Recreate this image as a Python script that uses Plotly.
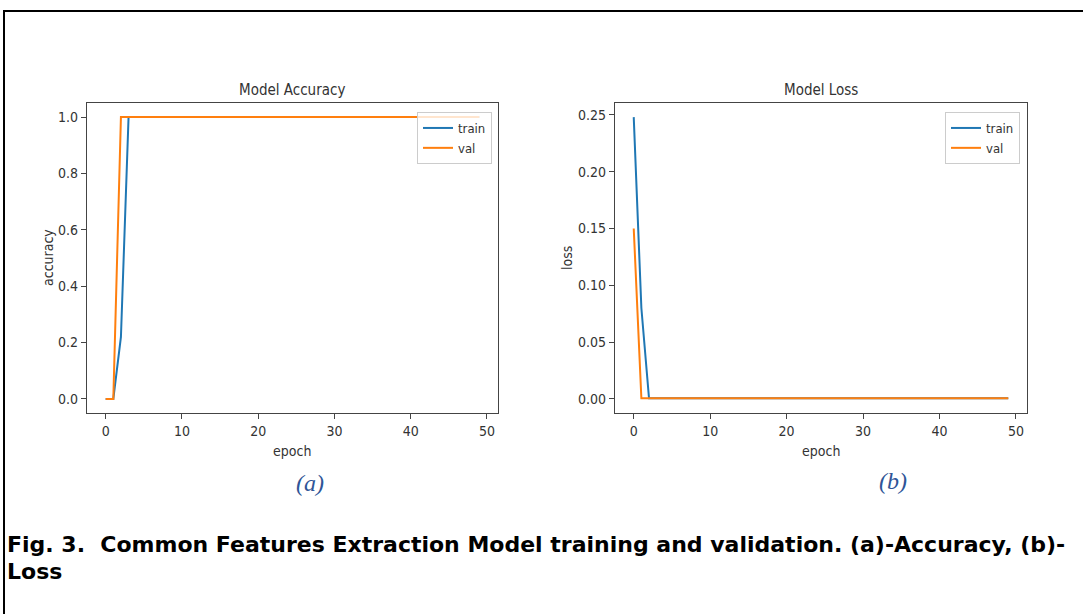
import plotly.graph_objects as go

epochs = list(range(50))
acc_train = [0.0, 0.0, 0.22] + [1.0] * 47
acc_val = [0.0, 0.0] + [1.0] * 48
loss_train = [0.248, 0.08] + [0.0005] * 48
loss_val = [0.15] + [0.0005] * 49

x_ticks = [0, 10, 20, 30, 40, 50]
acc_ticks = [0.0, 0.2, 0.4, 0.6, 0.8, 1.0]
acc_tick_text = ["0.0", "0.2", "0.4", "0.6", "0.8", "1.0"]
loss_ticks = [0.00, 0.05, 0.10, 0.15, 0.20, 0.25]
loss_tick_text = ["0.00", "0.05", "0.10", "0.15", "0.20", "0.25"]

W, H = 1083, 614
BLUE = "#1f77b4"
ORANGE = "#ff7f0e"
TXT = "#333333"
FONT = "DejaVu Sans Condensed, Liberation Sans Narrow, DejaVu Sans, sans-serif"

def px(x):
    return x / W

def py(y):
    return 1 - y / H

fig = go.Figure()
fig.add_trace(go.Scatter(x=epochs, y=acc_train, mode="lines", name="train",
                         line=dict(color=BLUE, width=2), xaxis="x", yaxis="y", legend="legend"))
fig.add_trace(go.Scatter(x=epochs, y=acc_val, mode="lines", name="val",
                         line=dict(color=ORANGE, width=2), xaxis="x", yaxis="y", legend="legend"))
fig.add_trace(go.Scatter(x=epochs, y=loss_train, mode="lines", name="train",
                         line=dict(color=BLUE, width=2), xaxis="x2", yaxis="y2", legend="legend2"))
fig.add_trace(go.Scatter(x=epochs, y=loss_val, mode="lines", name="val",
                         line=dict(color=ORANGE, width=2), xaxis="x2", yaxis="y2", legend="legend2"))

axis_common = dict(showline=True, linecolor="#444444", linewidth=1.2, mirror=True,
                   ticks="outside", ticklen=5, tickcolor="#444444", showgrid=False,
                   zeroline=False, tickfont=dict(family=FONT, size=14, color=TXT))

legend_common = dict(xanchor="right", yanchor="top",
                     bgcolor="rgba(255,255,255,0.8)", bordercolor="#cccccc", borderwidth=1,
                     font=dict(family=FONT, size=13, color=TXT), itemwidth=30,
                     tracegroupgap=0)

fig.update_layout(
    width=W, height=H, margin=dict(l=0, r=0, t=0, b=0),
    paper_bgcolor="white", plot_bgcolor="white",
    xaxis=dict(domain=[px(87), px(498)], range=[-2.45, 51.45], tickvals=x_ticks,
               anchor="y", **axis_common),
    yaxis=dict(domain=[py(413), py(103)], range=[-0.05, 1.05], tickvals=acc_ticks,
               ticktext=acc_tick_text, anchor="x", **axis_common),
    xaxis2=dict(domain=[px(615), px(1027)], range=[-2.45, 51.45], tickvals=x_ticks,
                anchor="y2", **axis_common),
    yaxis2=dict(domain=[py(413), py(103)], range=[-0.0124, 0.2604], tickvals=loss_ticks,
                ticktext=loss_tick_text, anchor="x2", **axis_common),
    legend=dict(x=px(492), y=py(112), **legend_common),
    legend2=dict(x=px(1020), y=py(112), **legend_common),
    showlegend=True,
)

def ann(text, x, y, size=14, color=TXT, family=FONT, angle=0, xanchor="center", height=None):
    fig.add_annotation(text=text, x=px(x), y=py(y), xref="paper", yref="paper",
                       showarrow=False, xanchor=xanchor, yanchor="middle", textangle=angle,
                       height=height, font=dict(family=family, size=size, color=color))

CAP_FONT = "DejaVu Sans, Liberation Sans, Arial, sans-serif"
ann("Model Accuracy", 292, 90, size=15)
ann("Model Loss", 821, 90, size=15)
ann("accuracy", 48, 258, angle=-90)
ann("loss", 567, 258, angle=-90)
ann("epoch", 292, 451)
ann("epoch", 821, 451)
ann("<i>(a)</i>", 310, 483, size=24, color="#2f5597", family="Liberation Serif, DejaVu Serif, serif")
ann("<i>(b)</i>", 893, 481, size=24, color="#2f5597", family="Liberation Serif, DejaVu Serif, serif")
ann("<b>Fig. 3.  Common Features Extraction Model training and validation. (a)-Accuracy, (b)-</b>",
    5, 544, size=22, color="#000000", family=CAP_FONT, xanchor="left")
ann("<b>Loss</b>", 5, 571, size=22, color="#000000", family=CAP_FONT, xanchor="left")

fig.add_shape(type="rect", xref="paper", yref="paper", x0=px(4), x1=px(1100), y0=py(700), y1=py(11),
              line=dict(color="black", width=2), fillcolor="rgba(0,0,0,0)", layer="above")

fig.write_html("out.html", config={"displayModeBar": False},
               post_script="document.body.style.margin='0';")
